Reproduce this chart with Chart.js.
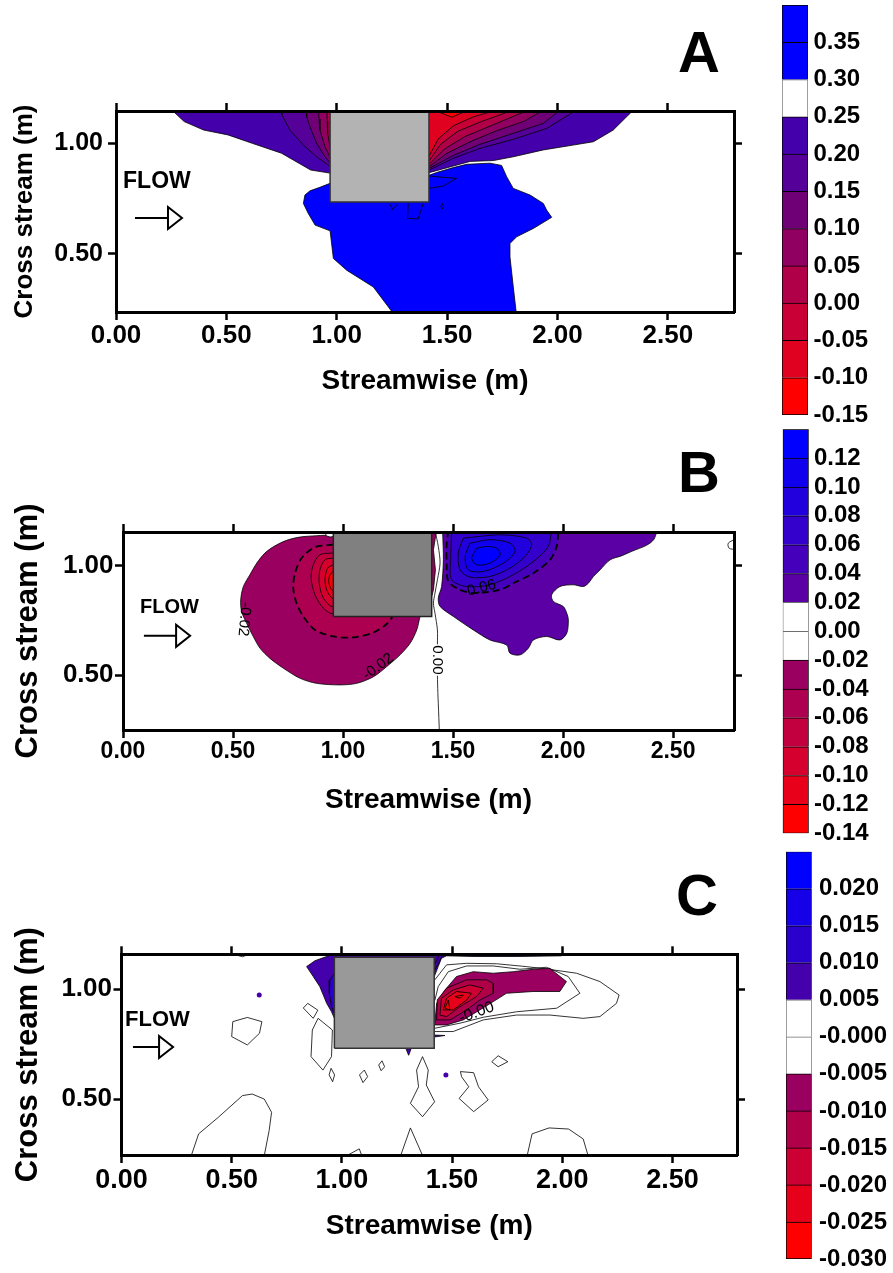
<!DOCTYPE html>
<html>
<head>
<meta charset="utf-8">
<script src="https://cdn.jsdelivr.net/npm/chart.js@4.4.1/dist/chart.umd.min.js"></script>
<style>
  body { margin: 0; background: #fff; position: relative; width: 893px; height: 1273px; overflow: hidden; }
  canvas { position: absolute; }
</style>
</head>
<body>
<canvas id="panelA" width="770" height="420" style="left:0;top:0"></canvas>
<canvas id="panelB" width="770" height="420" style="left:0;top:420px"></canvas>
<canvas id="panelC" width="770" height="433" style="left:0;top:840px"></canvas>
<canvas id="barA" width="133" height="440" style="left:760px;top:0"></canvas>
<canvas id="barB" width="133" height="440" style="left:760px;top:420px"></canvas>
<canvas id="barC" width="133" height="433" style="left:760px;top:840px"></canvas>
<script>
// ---- axis ticks (all three panels) ----
const xTicks = [0, 0.5, 1.0, 1.5, 2.0, 2.5];
const yTicks = [0.5, 1.0];

// ---- colour-bar levels and their printed labels (bottom to top) ----
const levelsA = [-0.15, -0.10, -0.05, 0.00, 0.05, 0.10, 0.15, 0.20, 0.25, 0.30, 0.35, 0.40];
const barLabelsA = ['-0.15', '-0.10', '-0.05', '0.00', '0.05', '0.10', '0.15', '0.20', '0.25', '0.30', '0.35'];
const levelsB = [-0.14, -0.12, -0.10, -0.08, -0.06, -0.04, -0.02, 0.00, 0.02, 0.04, 0.06, 0.08, 0.10, 0.12, 0.14];
const barLabelsB = ['-0.14', '-0.12', '-0.10', '-0.08', '-0.06', '-0.04', '-0.02', '0.00', '0.02', '0.04', '0.06', '0.08', '0.10', '0.12'];
const levelsC = [-0.030, -0.025, -0.020, -0.015, -0.010, -0.005, 0.000, 0.005, 0.010, 0.015, 0.020, 0.025];
const barLabelsC = ['-0.030', '-0.025', '-0.020', '-0.015', '-0.010', '-0.005', '-0.000', '0.005', '0.010', '0.015', '0.020'];

// ---- panel A contours (streamwise m, cross stream m) ----
const A_outer = [[0.232,1.17],[0.309,1.098],[0.397,1.060],[0.507,1.038],[0.617,1.000],[0.750,0.955],[0.882,0.879],[0.977,0.864],[1.418,0.867],[1.528,0.897],[1.604,0.918],[1.710,0.922],[1.800,0.939],[1.936,0.970],[2.072,0.992],[2.163,1.007],[2.253,1.060],[2.364,1.17]];
const A_left20 = [[0.748,1.17],[0.752,1.128],[0.788,1.060],[0.849,0.992],[0.909,0.939],[0.972,0.894],[1.10,0.894],[1.10,1.17]];
const A_left15 = [[0.861,1.17],[0.864,1.120],[0.879,1.075],[0.909,1.000],[0.947,0.939],[0.972,0.909],[1.10,0.909],[1.10,1.17]];
const A_left10 = [[0.917,1.17],[0.920,1.110],[0.924,1.060],[0.947,0.985],[0.972,0.932],[1.10,0.932],[1.10,1.17]];
const A_left05 = [[0.955,1.17],[0.957,1.100],[0.959,1.045],[0.972,0.970],[1.10,0.970],[1.10,1.17]];
const A_right20 = [[1.30,0.879],[1.418,0.879],[1.528,0.932],[1.649,0.977],[1.800,1.018],[1.951,1.067],[2.087,1.15],[1.30,1.15]];
const A_right15 = [[1.30,0.886],[1.418,0.886],[1.528,0.945],[1.649,0.995],[1.800,1.045],[1.936,1.090],[2.012,1.15],[1.30,1.15]];
const A_right10 = [[1.30,0.894],[1.418,0.894],[1.500,0.955],[1.600,1.005],[1.720,1.055],[1.850,1.100],[1.936,1.15],[1.30,1.15]];
const A_right05 = [[1.30,0.905],[1.418,0.905],[1.490,0.975],[1.580,1.030],[1.700,1.080],[1.868,1.15],[1.30,1.15]];
const A_right00 = [[1.30,0.920],[1.418,0.920],[1.470,0.995],[1.550,1.055],[1.660,1.100],[1.800,1.15],[1.30,1.15]];
const A_rightM05 = [[1.30,0.940],[1.418,0.940],[1.460,1.020],[1.530,1.080],[1.620,1.120],[1.725,1.15],[1.30,1.15]];
const A_rightM10 = [[1.441,1.15],[1.521,1.118],[1.596,1.15]];
const A_blue = [[0.970,0.819],[0.924,0.801],[0.879,0.785],[0.856,0.766],[0.849,0.728],[0.871,0.683],[0.902,0.630],[0.970,0.604],[0.985,0.479],[1.045,0.426],[1.166,0.350],[1.264,0.22],[1.815,0.22],[1.800,0.350],[1.785,0.486],[1.785,0.547],[1.815,0.577],[1.891,0.615],[1.974,0.665],[1.951,0.698],[1.936,0.728],[1.876,0.766],[1.800,0.796],[1.770,0.849],[1.747,0.900],[1.694,0.910],[1.589,0.905],[1.528,0.890],[1.453,0.868],[1.418,0.855]];
const A_wedge = [[1.418,0.852],[1.543,0.841],[1.483,0.807],[1.418,0.796]];
const A_vee = [[1.241,0.725],[1.253,0.701],[1.275,0.725]];
const A_cup = [[1.324,0.728],[1.321,0.661],[1.369,0.658],[1.392,0.728]];
const A_loop = [[1.478,0.728],[1.484,0.715],[1.478,0.703],[1.472,0.715],[1.478,0.728]];
const A_box = [[0.970,0.735],[1.418,0.735],[1.418,1.143],[0.970,1.143],[0.970,0.735]];

// ---- panel B contours ----
const B_leftOuter = [[0.958,1.140],[0.880,1.136],[0.805,1.130],[0.744,1.115],[0.691,1.090],[0.645,1.057],[0.608,1.011],[0.577,0.958],[0.547,0.904],[0.535,0.843],[0.539,0.790],[0.562,0.736],[0.592,0.676],[0.623,0.622],[0.668,0.576],[0.729,0.531],[0.805,0.485],[0.880,0.462],[0.986,0.455],[1.062,0.462],[1.138,0.492],[1.198,0.538],[1.259,0.592],[1.305,0.645],[1.335,0.706],[1.350,0.767],[1.360,0.800],[1.10,1.00]];
const B_left04 = [[0.956,1.095],[0.873,1.084],[0.812,1.034],[0.782,0.965],[0.774,0.896],[0.789,0.828],[0.820,0.767],[0.873,0.706],[0.956,0.676],[1.047,0.672],[1.138,0.694],[1.198,0.733],[1.221,0.770],[1.10,0.90]];
const B_left06 = [[0.956,1.057],[0.895,1.049],[0.865,1.003],[0.855,0.942],[0.873,0.866],[0.911,0.805],[0.956,0.782],[1.05,0.90]];
const B_left08 = [[0.956,1.034],[0.918,1.026],[0.895,0.980],[0.892,0.919],[0.911,0.851],[0.956,0.813],[1.05,0.92]];
const B_left10 = [[0.956,1.003],[0.930,0.988],[0.918,0.935],[0.929,0.881],[0.956,0.851],[1.05,0.93]];
const B_left12 = [[0.956,0.973],[0.941,0.958],[0.935,0.927],[0.944,0.896],[0.956,0.886],[1.05,0.93]];
const B_sliver = [[1.403,1.16],[1.423,1.16],[1.423,1.148],[1.411,1.072],[1.420,0.980],[1.411,0.889],[1.403,0.858]];
const B_bubble = [[0.918,1.16],[0.923,1.136],[0.941,1.130],[0.958,1.133],[0.958,1.16]];
const B_rightOuter = [[1.453,1.16],[1.453,1.148],[1.456,1.026],[1.448,0.904],[1.433,0.851],[1.441,0.813],[1.502,0.767],[1.592,0.706],[1.668,0.660],[1.744,0.637],[1.759,0.599],[1.805,0.592],[1.842,0.622],[1.865,0.660],[1.926,0.676],[1.986,0.660],[2.017,0.691],[2.024,0.752],[2.017,0.782],[2.001,0.813],[1.956,0.836],[1.948,0.866],[1.986,0.904],[2.047,0.912],[2.092,0.904],[2.115,0.919],[2.138,0.950],[2.168,0.980],[2.214,1.026],[2.268,1.045],[2.313,1.065],[2.379,1.092],[2.412,1.118],[2.428,1.16]];
const B_right04 = [[1.479,1.16],[1.471,1.10],[1.471,1.000],[1.479,0.927],[1.532,0.889],[1.592,0.874],[1.714,0.889],[1.774,0.919],[1.865,0.965],[1.941,1.026],[1.971,1.087],[1.979,1.16]];
const B_right06 = [[1.494,1.16],[1.489,1.026],[1.494,0.935],[1.562,0.904],[1.668,0.912],[1.774,0.958],[1.865,1.018],[1.933,1.087],[1.948,1.16]];
const B_right08 = [[1.547,1.125],[1.524,1.057],[1.532,0.980],[1.577,0.947],[1.668,0.950],[1.759,0.988],[1.827,1.041],[1.858,1.095],[1.835,1.125],[1.714,1.140],[1.547,1.125]];
const B_right10 = [[1.577,1.102],[1.555,1.041],[1.570,0.980],[1.638,0.973],[1.729,1.011],[1.782,1.064],[1.759,1.102],[1.668,1.118],[1.577,1.102]];
const B_right12 = [[1.608,1.079],[1.585,1.034],[1.608,1.003],[1.668,1.011],[1.714,1.049],[1.699,1.079],[1.653,1.087],[1.608,1.079]];
const B_zeroUpper = [[1.418,1.16],[1.433,1.087],[1.441,1.011],[1.429,0.935],[1.418,0.874],[1.411,0.828],[1.418,0.782],[1.429,0.706],[1.429,0.640]];
const B_zeroLower = [[1.429,0.497],[1.431,0.420],[1.433,0.371],[1.438,0.24]];
const B_edge = [[2.79,1.124],[2.751,1.102],[2.755,1.079],[2.79,1.072]];
const B_box = [[0.956,0.767],[1.403,0.767],[1.403,1.153],[0.956,1.153],[0.956,0.767]];

// ---- panel C contours ----
const C_blue = [[0.840,1.103],[0.878,1.130],[0.940,1.152],[0.955,1.17],[2.000,1.17],[1.997,1.152],[1.800,1.149],[1.600,1.149],[1.475,1.152],[1.452,1.141],[1.437,1.103],[1.419,1.057],[1.300,1.000],[1.100,0.950],[0.966,0.868],[0.953,0.898],[0.931,0.936],[0.900,1.012],[0.870,1.058],[0.840,1.103]];
const C_leftInner = [[0.966,1.073],[0.946,1.043],[0.943,0.982],[0.953,0.921],[0.966,0.891],[1.10,0.95]];
const C_wedge1 = [[1.419,1.085],[1.440,1.120],[1.462,1.17]];
const C_wedge2 = [[1.419,1.110],[1.433,1.135],[1.445,1.17]];
const C_c1 = [[1.422,0.823],[1.536,0.846],[1.642,0.873],[1.793,0.898],[1.975,0.914],[2.080,0.982],[2.027,1.058],[1.929,1.100],[1.808,1.091],[1.687,1.106],[1.566,1.106],[1.483,1.080],[1.437,1.012],[1.422,0.950]];
const C_c2 = [[1.422,0.808],[1.505,0.808],[1.642,0.861],[1.793,0.883],[1.944,0.883],[2.095,0.868],[2.171,0.876],[2.246,0.936],[2.258,0.974],[2.171,1.035],[2.065,1.073],[1.959,1.088],[1.838,1.103],[1.702,1.116],[1.566,1.118],[1.475,1.111],[1.445,1.073],[1.422,1.043]];
const C_m05 = [[1.40,0.846],[1.422,0.846],[1.430,0.936],[1.468,0.997],[1.520,1.058],[1.596,1.080],[1.687,1.073],[1.778,1.080],[1.868,1.091],[1.944,1.095],[2.019,1.035],[1.989,0.990],[1.868,0.990],[1.747,0.982],[1.687,0.944],[1.626,0.906],[1.551,0.861],[1.475,0.838],[1.40,0.838]];
const C_m10 = [[1.430,0.861],[1.433,0.952],[1.475,1.005],[1.566,1.043],[1.657,1.043],[1.687,1.027],[1.687,0.982],[1.626,0.951],[1.566,0.906],[1.491,0.861],[1.430,0.861]];
const C_m15 = [[1.445,0.883],[1.452,0.959],[1.505,0.997],[1.581,1.020],[1.642,1.005],[1.611,0.967],[1.536,0.921],[1.475,0.876],[1.445,0.883]];
const C_m20 = [[1.460,0.906],[1.475,0.959],[1.520,0.990],[1.588,0.982],[1.566,0.951],[1.505,0.906],[1.460,0.906]];
const C_m25a = [[1.468,0.914],[1.483,0.951],[1.490,0.906],[1.468,0.914]];
const C_m25b = [[1.513,0.967],[1.551,0.974],[1.536,0.959],[1.513,0.967]];
const C_loop1 = [[0.505,0.853],[0.571,0.872],[0.637,0.853],[0.626,0.800],[0.571,0.747],[0.500,0.785],[0.505,0.853]];
const C_loop2 = [[0.825,0.915],[0.845,0.936],[0.891,0.905],[0.870,0.868],[0.825,0.915]];
const C_loop3 = [[0.892,0.868],[0.957,0.815],[0.953,0.694],[0.914,0.633],[0.860,0.694],[0.866,0.815],[0.892,0.868]];
const C_loop4 = [[0.951,0.641],[0.967,0.611],[0.958,0.580],[0.942,0.611],[0.951,0.641]];
const C_loop5 = [[1.080,0.611],[1.102,0.633],[1.117,0.603],[1.096,0.576],[1.080,0.611]];
const C_loop6 = [[1.167,0.656],[1.182,0.675],[1.194,0.648],[1.178,0.630],[1.167,0.656]];
const C_loop7 = [[1.366,0.694],[1.392,0.633],[1.383,0.565],[1.421,0.489],[1.366,0.421],[1.311,0.482],[1.348,0.557],[1.339,0.633],[1.366,0.694]];
const C_loop8 = [[1.538,0.626],[1.598,0.621],[1.620,0.557],[1.664,0.497],[1.598,0.444],[1.532,0.504],[1.576,0.557],[1.543,0.603],[1.538,0.626]];
const C_loop9 = [[1.680,0.671],[1.709,0.698],[1.753,0.671],[1.709,0.648],[1.680,0.671]];
const C_arc1 = [[0.317,0.22],[0.317,0.245],[0.350,0.343],[0.439,0.418],[0.549,0.517],[0.593,0.524],[0.648,0.501],[0.681,0.441],[0.670,0.358],[0.648,0.245],[0.648,0.22]];
const C_arc2 = [[1.841,0.22],[1.841,0.245],[1.863,0.343],[1.940,0.370],[2.029,0.365],[2.095,0.320],[2.117,0.245],[2.117,0.22]];
const C_arc3 = [[1.267,0.22],[1.267,0.245],[1.311,0.370],[1.366,0.245],[1.366,0.22]];
const C_arc4 = [[1.024,0.22],[1.024,0.245],[1.079,0.275],[1.090,0.245],[1.090,0.22]];
const C_arc5 = [[0.505,1.17],[0.505,1.16],[0.549,1.148],[0.582,1.16]];
const C_blueTri = [[1.290,0.732],[1.315,0.732],[1.303,0.700],[1.290,0.732]];
const C_blueSliver = [[1.419,0.792],[1.468,0.790],[1.419,0.783]];
const C_dots = [[0.625,0.974],[1.472,0.610]];
const C_box = [[0.966,0.732],[1.419,0.732],[1.419,1.1455],[0.966,1.1455],[0.966,0.732]];

// ---- palettes (bottom band first, same order as the levels) ----
const bandColorsA = ['#ff0000', '#e0001f', '#c80035', '#b00048', '#900060', '#700075', '#550099', '#4400aa', '#ffffff', '#0000ff', '#0000ff'];
const bandColorsB = ['#ff0000', '#e8001a', '#d5002e', '#c3003f', '#ae0050', '#990060', '#ffffff', '#ffffff', '#5a00a5', '#4400bb', '#3300cc', '#2200dd', '#1100ee', '#0000ff'];
const bandColorsC = ['#ff0000', '#e6001a', '#cc0033', '#b00048', '#990060', '#ffffff', '#ffffff', '#4400aa', '#2a00cc', '#1500e8', '#0000ff'];

const FONT = "'Liberation Sans', Arial, Helvetica, sans-serif";
Chart.defaults.font.family = FONT;
Chart.defaults.color = '#000';

const pts = a => a.map(([x, y]) => ({x, y}));

function region(a, color, extra) {
  return Object.assign({
    data: pts(a), showLine: true, fill: 'shape', backgroundColor: color,
    borderColor: '#000', borderWidth: 0.8, pointRadius: 0, clip: 0, tension: 0
  }, extra);
}

function contour(a, extra) {
  return Object.assign({
    data: pts(a), showLine: true, fill: false, backgroundColor: 'transparent',
    borderColor: '#000', borderWidth: 0.8, pointRadius: 0, clip: 0, tension: 0
  }, extra);
}

const dashed = {borderDash: [7, 4], borderWidth: 1.8};
const smooth = {tension: 0.3};

// panel letter, FLOW arrow and the labels written on contour lines
function notesPlugin(n) {
  return {
    id: 'panelNotes',
    afterDatasetsDraw(chart) {
      const {ctx} = chart;
      const x = chart.scales.x, y = chart.scales.y;
      ctx.save();
      ctx.fillStyle = '#000';
      ctx.strokeStyle = '#000';

      ctx.font = `bold 58px ${FONT}`;
      ctx.textAlign = 'center';
      ctx.textBaseline = 'alphabetic';
      ctx.fillText(n.letter, n.letterX, n.letterY);

      const f = n.flow;
      ctx.font = `bold ${f.size}px ${FONT}`;
      ctx.textAlign = 'left';
      ctx.textBaseline = 'middle';
      ctx.fillText('FLOW', x.getPixelForValue(f.x), y.getPixelForValue(f.y));

      const ax0 = x.getPixelForValue(f.x0);
      const ax1 = x.getPixelForValue(f.x1);
      const ay = y.getPixelForValue(f.ya);
      ctx.lineWidth = 2;
      ctx.beginPath();
      ctx.moveTo(ax0, ay);
      ctx.lineTo(ax1 - 14, ay);
      ctx.moveTo(ax1 - 14, ay - 11);
      ctx.lineTo(ax1, ay);
      ctx.lineTo(ax1 - 14, ay + 11);
      ctx.closePath();
      ctx.stroke();

      for (const l of n.labels) {
        ctx.save();
        ctx.translate(x.getPixelForValue(l.x), y.getPixelForValue(l.y));
        ctx.rotate(l.angle * Math.PI / 180);
        ctx.font = `${l.size || 15}px ${FONT}`;
        ctx.textAlign = 'center';
        ctx.textBaseline = 'middle';
        ctx.fillText(l.text, 0, 0);
        ctx.restore();
      }
      ctx.restore();
    }
  };
}

function makePanel(id, P) {
  const frame = {display: true, color: '#000', width: 3, z: 1};
  const marks = {display: true, drawOnChartArea: false, drawTicks: true, tickLength: 8,
                 tickWidth: 2.5, tickColor: '#000', color: '#000', z: 1};
  const flat = s => { s.paddingTop = 0; s.paddingBottom = 0; s.paddingLeft = 0; s.paddingRight = 0; };
  const setX = s => { s.ticks = xTicks.map(v => ({value: v})); };
  const setY = s => { s.ticks = yTicks.map(v => ({value: v})); };
  const datasets = P.datasets.map((d, i) => Object.assign(d, {order: -i}));

  return new Chart(document.getElementById(id), {
    type: 'scatter',
    data: {datasets},
    options: {
      responsive: false,
      animation: false,
      events: [],
      layout: {padding: 0},
      plugins: {legend: {display: false}, tooltip: {enabled: false}},
      scales: {
        x: {
          type: 'linear', position: 'bottom', min: 0, max: P.xMax, bounds: 'data',
          border: frame, grid: marks, afterBuildTicks: setX,
          afterFit: s => { s.height = P.bottom; flat(s); },
          ticks: {autoSkip: false, maxRotation: 0, padding: P.xTickPad, color: '#000',
                  font: {size: P.xTickSize, weight: 'bold'}, callback: v => v.toFixed(2)},
          title: {display: true, text: 'Streamwise (m)', color: '#000',
                  font: {size: 28, weight: 'bold'}, padding: {top: 0, bottom: P.xTitlePad}}
        },
        x2: {
          type: 'linear', position: 'top', min: 0, max: P.xMax, bounds: 'data',
          border: frame, grid: marks, afterBuildTicks: setX,
          afterFit: s => { s.height = P.top; flat(s); },
          ticks: {display: false}
        },
        y: {
          type: 'linear', position: 'left', min: P.yMin, max: P.yMax, bounds: 'data',
          border: frame, grid: marks, afterBuildTicks: setY,
          afterFit: s => { s.width = P.left; flat(s); },
          ticks: {autoSkip: false, padding: P.yTickPad, color: '#000',
                  font: {size: P.yTickSize, weight: 'bold'}, callback: v => v.toFixed(2)},
          title: {display: true, text: 'Cross stream (m)', color: '#000',
                  font: {size: P.yTitleSize, weight: 'bold'}, padding: {top: 9.4, bottom: 0}}
        },
        y2: {
          type: 'linear', position: 'right', min: P.yMin, max: P.yMax, bounds: 'data',
          border: frame, grid: marks, afterBuildTicks: setY,
          afterFit: s => { s.width = P.right; flat(s); },
          ticks: {display: false}
        }
      }
    },
    plugins: [notesPlugin(P.notes)]
  });
}

function makeColourBar(id, levels, colors, labels, L) {
  const datasets = colors.map((c, i) => ({
    data: [[levels[i], levels[i + 1]]],
    backgroundColor: c,
    borderColor: c === '#ffffff' ? '#6e6e6e' : '#000',
    borderWidth: {left: 1, right: 1, top: 1, bottom: i === 0 ? 1 : 0},
    borderSkipped: false,
    grouped: false,
    barPercentage: 1,
    categoryPercentage: 1
  }));
  return new Chart(document.getElementById(id), {
    type: 'bar',
    data: {labels: [''], datasets},
    options: {
      responsive: false,
      animation: false,
      events: [],
      layout: {padding: {left: L.left, top: L.top, bottom: L.bottom, right: 0}},
      plugins: {legend: {display: false}, tooltip: {enabled: false}},
      scales: {
        x: {display: false},
        y: {
          position: 'right', min: levels[0], max: levels[levels.length - 1], bounds: 'data',
          grid: {display: false, drawTicks: false}, border: {display: false},
          afterBuildTicks: s => { s.ticks = levels.slice(0, -1).map(v => ({value: v})); },
          afterFit: s => { s.width = L.axisW; s.paddingTop = 0; s.paddingBottom = 0; },
          ticks: {autoSkip: false, padding: L.pad, color: '#000',
                  font: {size: 24, weight: 'bold'}, callback: (v, i) => labels[i]}
        }
      }
    }
  });
}

// ---- panel A ----
makePanel('panelA', {
  left: 116, right: 36, top: 111, bottom: 108,
  xMax: 2.80, yMin: 0.237, yMax: 1.146,
  xTickSize: 26, xTickPad: 0, yTickSize: 25, yTickPad: 5, yTitleSize: 26, xTitlePad: 22,
  datasets: [
    region(A_outer, bandColorsA[7]),
    region(A_left20, bandColorsA[6]),
    region(A_left15, bandColorsA[5]),
    region(A_left10, bandColorsA[4]),
    region(A_left05, bandColorsA[3]),
    region(A_right20, bandColorsA[6]),
    region(A_right15, bandColorsA[5]),
    region(A_right10, bandColorsA[4]),
    region(A_right05, bandColorsA[3]),
    region(A_right00, bandColorsA[2]),
    region(A_rightM05, bandColorsA[1]),
    region(A_rightM10, bandColorsA[0]),
    region(A_blue, bandColorsA[9]),
    contour(A_wedge),
    contour(A_vee),
    contour(A_cup),
    contour(A_loop),
    region(A_box, '#b3b3b3', {borderColor: '#333', borderWidth: 1.5})
  ],
  notes: {
    letter: 'A', letterX: 699, letterY: 72,
    flow: {x: 0.032, y: 0.827, size: 23, x0: 0.086, x1: 0.299, ya: 0.662},
    labels: []
  }
});

// ---- panel B ----
makePanel('panelB', {
  left: 123, right: 36, top: 112, bottom: 110,
  xMax: 2.777, yMin: 0.249, yMax: 1.153,
  xTickSize: 23, xTickPad: 0, yTickSize: 26, yTickPad: 1.5, yTitleSize: 31, xTitlePad: 23,
  datasets: [
    region(B_leftOuter, bandColorsB[5], smooth),
    region(B_left04, bandColorsB[4], Object.assign({}, smooth, dashed)),
    region(B_left06, bandColorsB[3], smooth),
    region(B_left08, bandColorsB[2], smooth),
    region(B_left10, bandColorsB[1], smooth),
    region(B_left12, bandColorsB[0], smooth),
    region(B_sliver, bandColorsB[5]),
    region(B_bubble, '#ffffff'),
    region(B_rightOuter, bandColorsB[8], smooth),
    region(B_right04, bandColorsB[9], Object.assign({}, smooth, dashed)),
    region(B_right06, bandColorsB[10], smooth),
    region(B_right08, bandColorsB[11], smooth),
    region(B_right10, bandColorsB[12], smooth),
    region(B_right12, bandColorsB[13], smooth),
    contour(B_zeroUpper, smooth),
    contour(B_zeroLower, smooth),
    contour(B_edge, smooth),
    region(B_box, '#808080', {borderColor: '#222', borderWidth: 1.5})
  ],
  notes: {
    letter: 'B', letterX: 699, letterY: 72,
    flow: {x: 0.077, y: 0.807, size: 20, x0: 0.095, x1: 0.305, ya: 0.679},
    labels: [
      {text: '-0.02', x: 0.551, y: 0.755, angle: 95},
      {text: '-0.02', x: 1.160, y: 0.538, angle: -37},
      {text: '0.00', x: 1.429, y: 0.569, angle: 90},
      {text: '0.06', x: 1.630, y: 0.897, angle: -15}
    ]
  }
});

// ---- panel C ----
makePanel('panelC', {
  left: 121.5, right: 33, top: 114.3, bottom: 118,
  xMax: 2.793, yMin: 0.247, yMax: 1.159,
  xTickSize: 27, xTickPad: 1.5, yTickSize: 26, yTickPad: 1.5, yTitleSize: 31, xTitlePad: 30,
  datasets: [
    region(C_blue, bandColorsC[7]),
    region(C_leftInner, bandColorsC[8]),
    contour(C_wedge1),
    contour(C_wedge2),
    contour(C_c2),
    contour(C_c1),
    region(C_m05, bandColorsC[4]),
    region(C_m10, bandColorsC[3]),
    region(C_m15, bandColorsC[2]),
    region(C_m20, bandColorsC[1]),
    region(C_m25a, bandColorsC[0]),
    region(C_m25b, bandColorsC[0]),
    contour(C_loop1), contour(C_loop2), contour(C_loop3), contour(C_loop4), contour(C_loop5),
    contour(C_loop6), contour(C_loop7), contour(C_loop8), contour(C_loop9),
    contour(C_arc1), contour(C_arc2), contour(C_arc3), contour(C_arc4), contour(C_arc5),
    region(C_blueTri, bandColorsC[7]),
    region(C_blueSliver, bandColorsC[7]),
    {data: pts(C_dots), showLine: false, pointRadius: 2.5, pointBorderWidth: 0,
     pointBackgroundColor: bandColorsC[7], clip: 0},
    region(C_box, '#999999', {borderColor: '#333', borderWidth: 1.5})
  ],
  notes: {
    letter: 'C', letterX: 697, letterY: 75,
    flow: {x: 0.016, y: 0.860, size: 22, x0: 0.052, x1: 0.234, ya: 0.738},
    labels: [{text: '-0.00', x: 1.611, y: 0.894, angle: -20, size: 16}]
  }
});

// ---- colour bars ----
makeColourBar('barA', levelsA, bandColorsA, barLabelsA, {left: 22, top: 5, bottom: 25, axisW: 85, pad: 5.5});
makeColourBar('barB', levelsB, bandColorsB, barLabelsB, {left: 22.7, top: 9.3, bottom: 26.7, axisW: 84.3, pad: 5.3});
makeColourBar('barC', levelsC, bandColorsC, barLabelsC, {left: 26, top: 11.7, bottom: 14, axisW: 81.3, pad: 7.3});
</script>
</body>
</html>
